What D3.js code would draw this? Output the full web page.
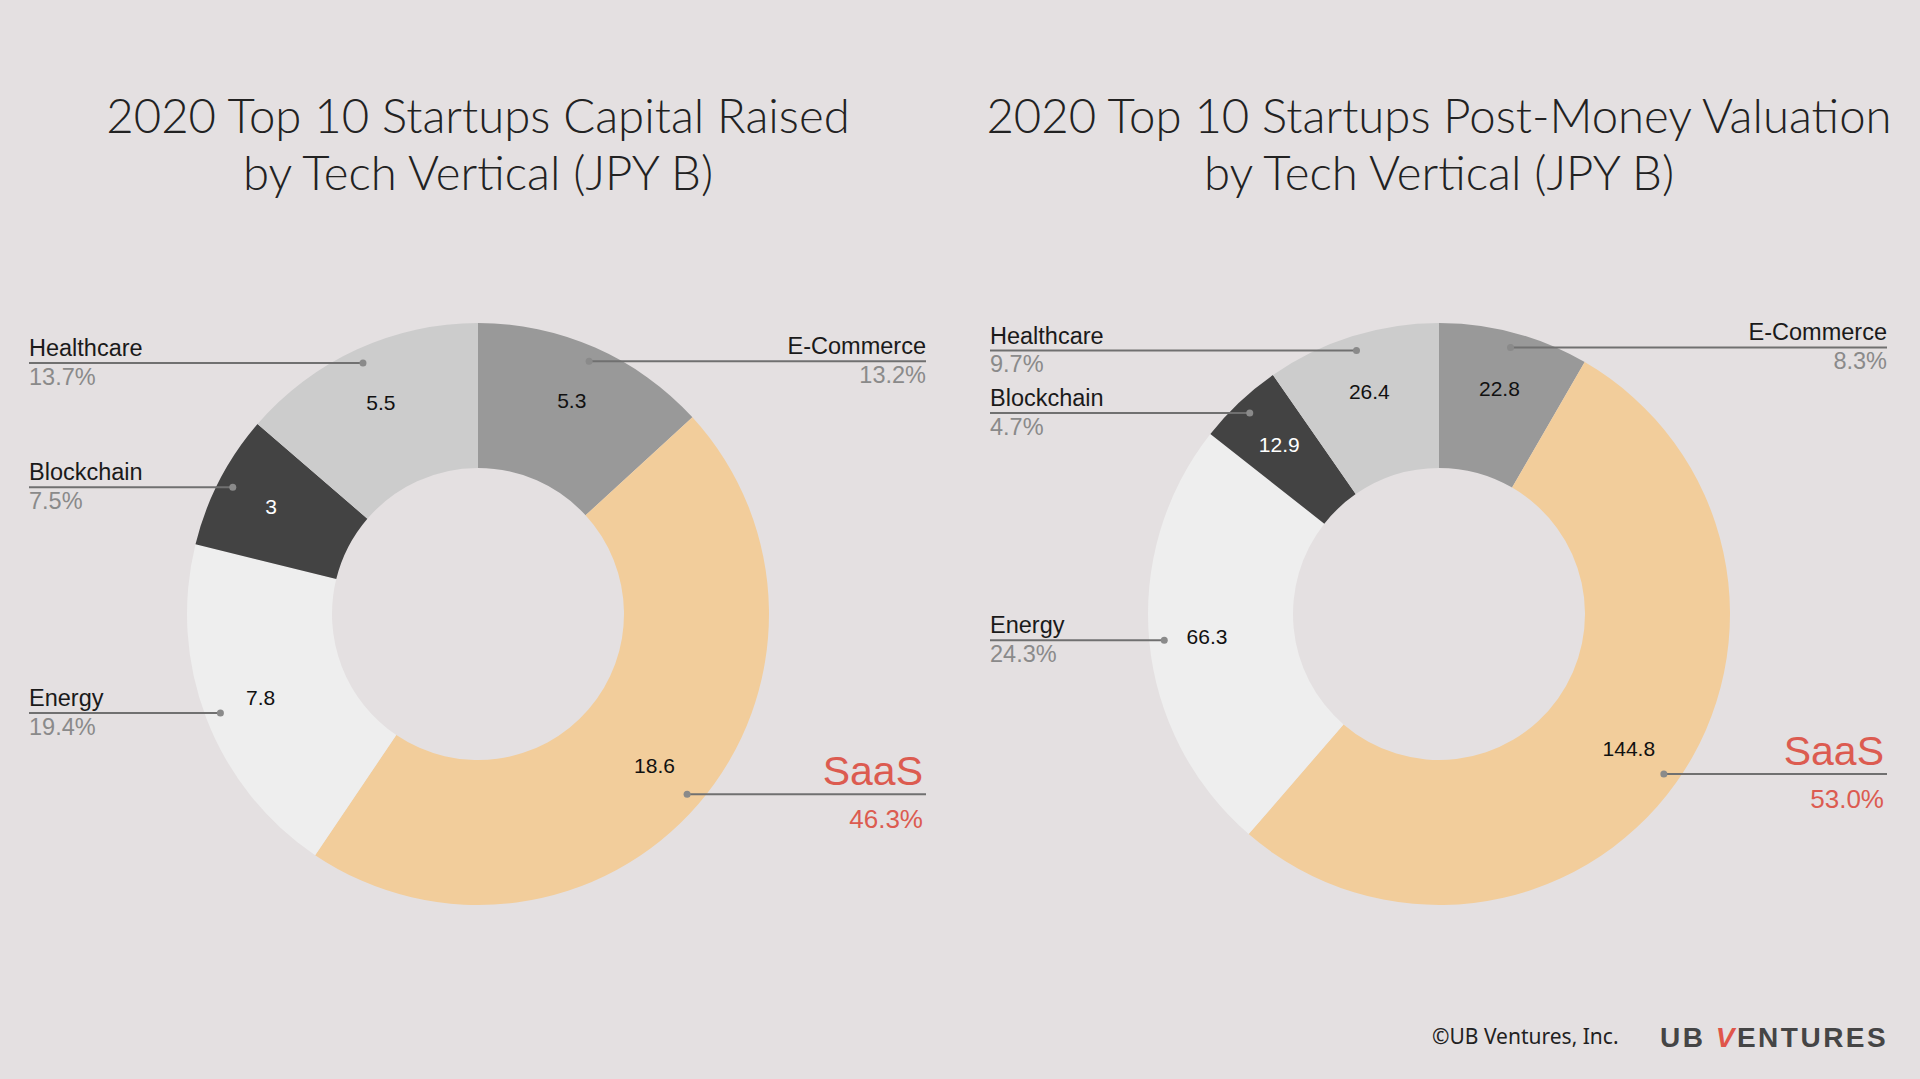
<!DOCTYPE html>
<html>
<head>
<meta charset="utf-8">
<script src="https://cdn.jsdelivr.net/npm/d3@7"></script>
<style>
  html, body { margin: 0; padding: 0; background: #e4e0e1; }
  svg { display: block; }
</style>
</head>
<body>
<svg id="chart" width="1920" height="1079"></svg>
<script>
// ---- Data ----
const categories = ["E-Commerce", "SaaS", "Energy", "Blockchain", "Healthcare"];
const capitalRaised = [5.3, 18.6, 7.8, 3, 5.5];
const postMoneyValuation = [22.8, 144.8, 66.3, 12.9, 26.4];
const titleCapital = ["2020 Top 10 Startups Capital Raised", "by Tech Vertical (JPY B)"];
const titleValuation = ["2020 Top 10 Startups Post-Money Valuation", "by Tech Vertical (JPY B)"];
const highlightCategory = "SaaS";

// ---- Styles ----
const sliceColors = d3.scaleOrdinal()
  .domain(categories)
  .range(["#999999", "#f2cd9b", "#eeeeee", "#434343", "#cccccc"]);
const valueTextColor = d3.scaleOrdinal()
  .domain(categories)
  .range(["#111", "#111", "#111", "#fff", "#111"]);

const svg = d3.select("#chart");
svg.append("rect").attr("width", 1920).attr("height", 1079).attr("fill", "#e4e0e1");

const R = 291, r0 = 146;
const labelR = 233, dotR = 276;

function drawDonut(cx, cy, values, titleLines) {
  const g = svg.append("g").attr("transform", `translate(${cx},${cy})`);
  const data = categories.map((c, i) => ({ cat: c, value: values[i] }));
  const total = d3.sum(values);
  const pie = d3.pie().sort(null).value(d => d.value);
  const arcs = pie(data);
  const arc = d3.arc().innerRadius(r0).outerRadius(R);

  g.selectAll("path.slice").data(arcs).join("path")
    .attr("class", "slice")
    .attr("d", arc)
    .attr("fill", d => sliceColors(d.data.cat));

  // value labels
  const labelArc = d3.arc().innerRadius(labelR).outerRadius(labelR);
  g.selectAll("text.val").data(arcs).join("text")
    .attr("class", "val")
    .attr("transform", d => `translate(${labelArc.centroid(d)})`)
    .attr("text-anchor", "middle")
    .attr("dy", "0.35em")
    .attr("font-family", "Liberation Sans, Arial, sans-serif")
    .attr("font-size", 21)
    .attr("fill", d => valueTextColor(d.data.cat))
    .text(d => String(d.data.value));

  // callouts
  const dotArc = d3.arc().innerRadius(dotR).outerRadius(dotR);
  const fmtPct = v => (v * 100).toFixed(1) + "%";
  arcs.forEach(d => {
    const [dx, dy] = dotArc.centroid(d);
    const mid = (d.startAngle + d.endAngle) / 2;
    const left = mid > Math.PI;
    const xEnd = left ? -449 : 448;
    const hl = d.data.cat === highlightCategory;
    g.append("line")
      .attr("x1", dx).attr("y1", dy).attr("x2", xEnd).attr("y2", dy)
      .attr("stroke", "#707070").attr("stroke-width", 2);
    g.append("circle").attr("cx", dx).attr("cy", dy).attr("r", 3.5).attr("fill", "#8a8a8a");
    g.append("text")
      .attr("x", xEnd).attr("y", dy - (hl ? 9 : 7))
      .attr("text-anchor", left ? "start" : "end")
      .attr("font-family", "Liberation Sans, Arial, sans-serif")
      .attr("font-size", hl ? 41 : 23.5)
      .attr("fill", hl ? "#dc5b50" : "#1a1a1a")
      .attr("dx", hl && !left ? -3 : 0)
      .text(d.data.cat);
    g.append("text")
      .attr("x", xEnd).attr("y", dy + (hl ? 34 : 21.5))
      .attr("text-anchor", left ? "start" : "end")
      .attr("font-family", "Liberation Sans, Arial, sans-serif")
      .attr("font-size", hl ? 26 : 23.5)
      .attr("fill", hl ? "#dc5b50" : "#8a8a8a")
      .attr("dx", hl && !left ? -3 : 0)
      .text(fmtPct(d.data.value / total));
  });

  // title
  const t = svg.append("text")
    .attr("text-anchor", "middle")
    .attr("font-family", "Lato, sans-serif")
    .attr("font-weight", 300)
    .attr("font-size", 47.3)
    .attr("fill", "#222");
  titleLines.forEach((line, i) => {
    t.append("tspan").attr("x", cx).attr("y", 133 + i * 57).text(line);
  });
}

drawDonut(478, 614, capitalRaised, titleCapital);
drawDonut(1439, 614, postMoneyValuation, titleValuation);

// footer
svg.append("text")
  .attr("x", 1432).attr("y", 1044)
  .attr("font-family", "Noto Sans, sans-serif")
  .attr("font-size", 21)
  .attr("fill", "#222")
  .text("©UB Ventures, Inc.");

const logo = svg.append("text")
  .attr("x", 1660).attr("y", 1047)
  .attr("font-family", "Liberation Sans, Arial, sans-serif")
  .attr("font-weight", "bold")
  .attr("font-size", 28)
  .attr("letter-spacing", 2.5)
  .attr("fill", "#454545");
logo.append("tspan").text("UB ");
logo.append("tspan").attr("fill", "#e0554a").attr("font-style", "italic").text("V");
logo.append("tspan").text("ENTURES");
</script>
</body>
</html>
